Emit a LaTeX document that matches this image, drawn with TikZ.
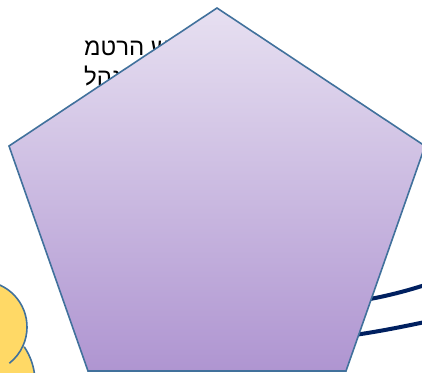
\documentclass[tikz,border=0pt]{standalone}
\usepackage{fontspec}
\newfontfamily\hebfont{Liberation Sans}
\definecolor{outl}{HTML}{41719C}
\definecolor{navyline}{HTML}{002060}
\definecolor{cloudy}{HTML}{FFD966}
\definecolor{ptop}{HTML}{E7E0F1}
\definecolor{pbot}{HTML}{AF95D1}
\newcommand{\hk}{\kern0pt}
\tikzset{
  hebtext/.style={anchor=base west, inner sep=0pt, text=black, font=\hebfont\fontsize{24}{29}\selectfont},
  navycurve/.style={draw=navyline, line width=4pt},
  pentastyle/.style={draw=outl, line width=1.6pt, line join=miter, top color=ptop, bottom color=pbot},
  cloudedge/.style={draw=outl, line width=1.6pt},
}
\begin{document}
\begin{tikzpicture}[x=1pt,y=-1pt]
\path[use as bounding box] (0,0) rectangle (422,372);
\begin{scope}
\clip (0,0) rectangle (422,372);
% text (partly hidden behind the pentagon), letters set left to right as in the picture
\node[hebtext] (t1) at (84,55) {מ\hk ט\hk ר\hk ה\hk{} ש};
\node[hebtext] (t2) at (84,85) {ל\hk ה\hk ג\hk ש\hk י\hk ם};
% navy curves
\coordinate (u0) at (345,303);
\coordinate (u1) at (425,285);
\coordinate (l0) at (330,338);
\coordinate (l1) at (425,322);
\path[navycurve] (u0) .. controls (375,299) and (400,293) .. (u1);
\path[navycurve] (l0) .. controls (360,335) and (392,329) .. (l1);
% pentagon
\coordinate (pT) at (217,8);
\coordinate (pR) at (425,146);
\coordinate (pBR) at (346,371);
\coordinate (pBL) at (88,371);
\coordinate (pL) at (9,146);
\path[pentastyle] (pT) -- (pR) -- (pBR) -- (pBL) -- (pL) -- cycle;
% cloud
\coordinate (c1) at (-19,327);
\coordinate (c2) at (-28,382);
\fill[cloudy] (c1) circle[radius=46];
\fill[cloudy] (c2) circle[radius=63];
\path[cloudedge] (c1) ++(-66:46) arc[start angle=-66, end angle=52, radius=46];
\path[cloudedge] (c2) ++(-34:63) arc[start angle=-34, end angle=30, radius=63];
\end{scope}
\end{tikzpicture}
\end{document}
